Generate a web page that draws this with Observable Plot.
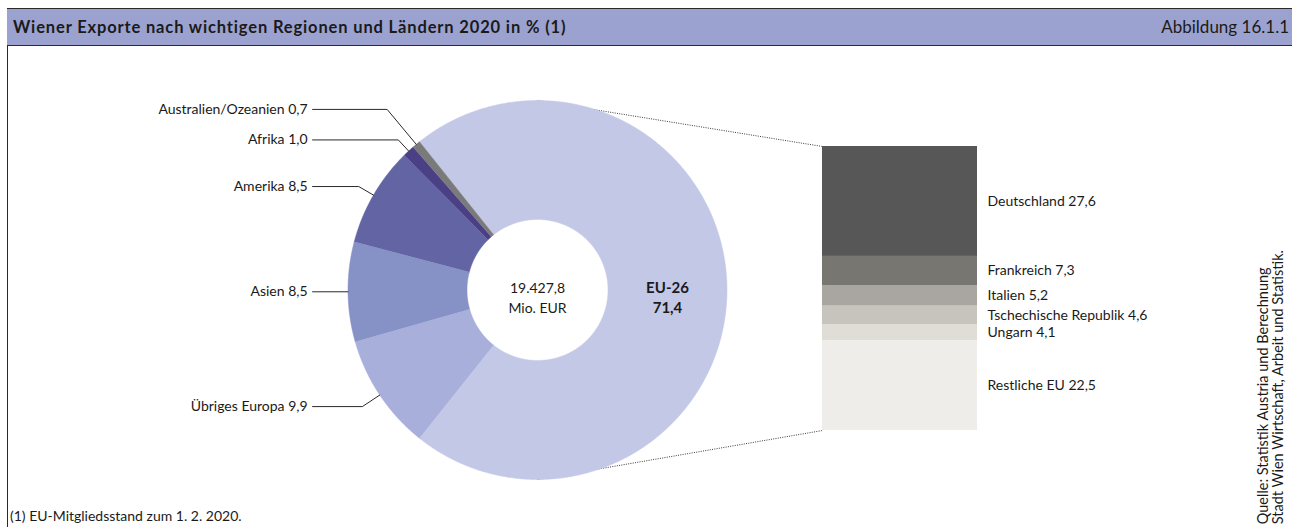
<!DOCTYPE html>
<html><head><meta charset="utf-8">
<script src="https://cdn.jsdelivr.net/npm/d3@7"></script>
<script src="https://cdn.jsdelivr.net/npm/@observablehq/plot@0.6"></script>
<style>
body{margin:0;background:#fff;font-family:Lato,"Open Sans",sans-serif;color:#1a1a1a;}
#wrap{position:relative;width:1292px;height:527px;overflow:hidden;background:#fff;}
#header{position:absolute;left:7px;top:8px;width:1290px;height:36px;background:#9ba2d0;border-top:1.5px solid #2a2a2a;border-bottom:1.5px solid #2a2a2a;box-sizing:content-box;}
#title{position:absolute;left:6px;top:0;line-height:36px;font-weight:700;font-size:16.5px;letter-spacing:0.85px;color:#1a1a1a;}
#fig{position:absolute;right:8px;top:0;line-height:36px;font-size:17px;color:#1a1a1a;}
#lborder{position:absolute;left:7px;top:45px;width:0;height:482px;border-left:1.5px solid #2a2a2a;}
#foot{position:absolute;left:10px;top:507px;font-size:14px;color:#1a1a1a;}
#source{position:absolute;left:1255px;bottom:3px;writing-mode:vertical-rl;transform:rotate(180deg);font-size:14.5px;line-height:15px;color:#1a1a1a;white-space:nowrap;}
.layer{position:absolute;left:0;top:0;}
</style></head>
<body><div id="wrap">
<div id="header"><div id="title">Wiener Exporte nach wichtigen Regionen und Ländern 2020 in % (1)</div><div id="fig">Abbildung 16.1.1</div></div>
<div id="lborder"></div>
<div id="pie" class="layer"></div>
<div id="bar" class="layer"></div>
<div id="foot">(1) EU-Mitgliedsstand zum 1. 2. 2020.</div>
<div id="source">Quelle: Statistik Austria und Berechnung<br>Stadt Wien Wirtschaft, Arbeit und Statistik.</div>
</div>
<script>
// ---------- data ----------
const regions = ["EU-26", "Übriges Europa", "Asien", "Amerika", "Afrika", "Australien/Ozeanien"];
const regionShares = [71.4, 9.9, 8.5, 8.5, 1.0, 0.7];
const euCountries = ["Deutschland", "Frankreich", "Italien", "Tschechische Republik", "Ungarn", "Restliche EU"];
const euShares = [27.6, 7.3, 5.2, 4.6, 4.1, 22.5];
const totalValue = "19.427,8";
const totalUnit = "Mio. EUR";

// ---------- styles / layout ----------
const regionColors = ["#c3c8e6", "#a8afdb", "#8691c6", "#6264a3", "#4b4086", "#7a7a7a"];
const euColors = ["#575757", "#787671", "#a9a6a1", "#c7c4be", "#dfddd6", "#eeede9"];
const W = 1292, H = 527;
const cx = 537, cy = 289.5, R = 189.5, innerR = 0.372;
const leaderElbow = [null, 1.11, 1.0, 1.09, 1.08, 1.24];
const labelLineX = -1.187;
const barLeft = 822, barRight = 977, barTop = 146, barBottom = 430;
const FONT = "Lato, 'Open Sans', sans-serif";

const fmt = v => v.toFixed(1).replace(".", ",");

// ---------- bar (EU breakdown) ----------
const euTotal = d3.sum(euShares);
const euRows = euCountries.map((c, i) => ({country: c, value: euShares[i]}));
const barPlot = Plot.plot({
  width: W, height: H, margin: 0,
  style: {background: "transparent", fontFamily: FONT, fontSize: "14px", color: "#1a1a1a"},
  x: {domain: [0, 1], range: [barLeft, barRight], axis: null},
  y: {domain: [0, euTotal], range: [barTop, barBottom], axis: null},
  color: {domain: euCountries, range: euColors},
  marks: [
    Plot.rectY(euRows, Plot.stackY({x1: () => 0, x2: () => 1, y: "value", fill: "country"})),
    Plot.text(euRows, Plot.stackY({x: () => 1, y: "value", text: d => `${d.country} ${fmt(d.value)}`,
      textAnchor: "start", dx: 10, fontSize: 14, fill: "#1a1a1a"}))
  ]
});
document.getElementById("bar").appendChild(barPlot);
const bx = barPlot.scale("x"), by = barPlot.scale("y");

// ---------- donut ----------
const total = d3.sum(regionShares);
const start = 90 - regionShares[0] / total * 180;
let acc = start;
const slices = regions.map((name, i) => {
  const a0 = acc, a1 = acc + regionShares[i] / total * 360;
  acc = a1;
  return {name, value: regionShares[i], a0, a1, mid: (a0 + a1) / 2, i};
});
const rad = a => a * Math.PI / 180;
const pt = (a, r) => ({x: r * Math.sin(rad(a)), y: r * Math.cos(rad(a))});
const piePoints = [];
for (const s of slices) {
  const n = Math.max(2, Math.ceil((s.a1 - s.a0) / 0.5));
  for (let k = 0; k <= n; k++) piePoints.push({name: s.name, ...pt(s.a0 + (s.a1 - s.a0) * k / n, 1)});
  for (let k = n; k >= 0; k--) piePoints.push({name: s.name, ...pt(s.a0 + (s.a1 - s.a0) * k / n, innerR)});
}
const leaderPts = [];
const labelRows = [];
slices.slice(1).forEach(s => {
  const e = pt(s.mid, leaderElbow[s.i]);
  leaderPts.push({name: s.name, ...pt(s.mid, 1)});
  leaderPts.push({name: s.name, ...e});
  leaderPts.push({name: s.name, x: labelLineX, y: e.y});
  labelRows.push({x: labelLineX, y: e.y, text: `${s.name} ${fmt(s.value)}`});
});
const toX = px => (px - cx) / R, toY = py => (cy - py) / R;
const connectors = [
  {x1: 0, y1: 1, x2: toX(bx.apply(0)), y2: toY(by.apply(0))},
  {x1: 0, y1: -1, x2: toX(bx.apply(0)), y2: toY(by.apply(euTotal))}
];
const eu = slices[0];
const euLabel = pt(eu.mid, (1 + innerR) / 2);

const piePlot = Plot.plot({
  width: W, height: H, margin: 0,
  style: {background: "transparent", fontFamily: FONT, fontSize: "14px", color: "#1a1a1a"},
  x: {domain: [-1, 1], range: [cx - R, cx + R], axis: null},
  y: {domain: [-1, 1], range: [cy + R, cy - R], axis: null},
  color: {domain: regions, range: regionColors},
  marks: [
    Plot.link(connectors, {x1: "x1", y1: "y1", x2: "x2", y2: "y2", stroke: "#3a3a3a", strokeWidth: 1, strokeDasharray: "1,1.3"}),
    Plot.line(piePoints, {x: "x", y: "y", z: "name", fill: "name", stroke: "name", strokeWidth: 0.5}),
    Plot.line(leaderPts, {x: "x", y: "y", z: "name", stroke: "#2a2a2a", strokeWidth: 1}),
    Plot.text(labelRows, {x: "x", y: "y", text: "text", textAnchor: "end", dx: -5, fontSize: 14, fill: "#1a1a1a"}),
    Plot.text([`${totalValue}\n${totalUnit}`], {x: () => 0, y: () => 0, text: d => d, fontSize: 14, lineHeight: 1.43, dy: 7, fill: "#1a1a1a"}),
    Plot.text([`${eu.name}\n${fmt(eu.value)}`], {x: () => euLabel.x, y: () => euLabel.y, text: d => d, fontSize: 15, fontWeight: "bold", lineHeight: 1.33, dy: 7, fill: "#1a1a1a"})
  ]
});
document.getElementById("pie").appendChild(piePlot);
</script>
</body></html>
